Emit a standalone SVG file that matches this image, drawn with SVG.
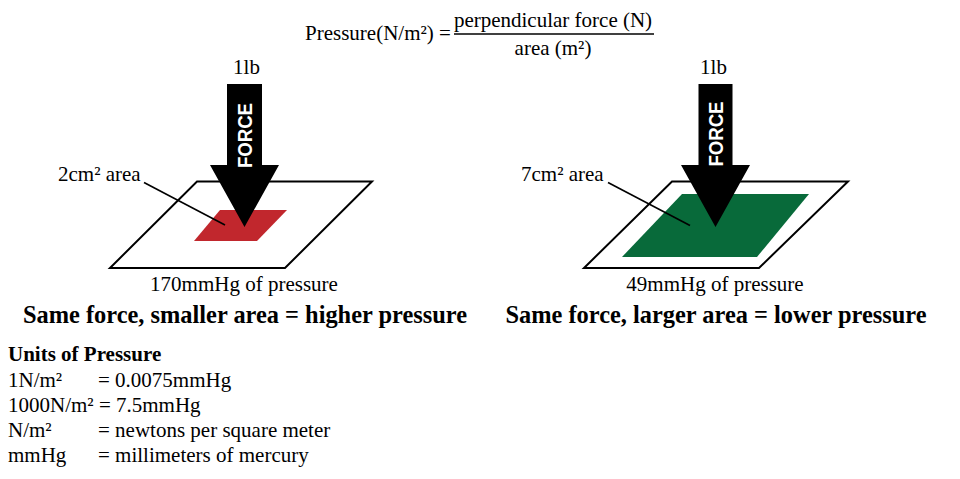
<svg xmlns="http://www.w3.org/2000/svg" width="960" height="479" viewBox="0 0 960 479">
<style>
  .t { font-family: "Liberation Serif", "Times New Roman", serif; font-size: 21px; fill: #000; }
  .b { font-family: "Liberation Serif", "Times New Roman", serif; font-size: 24.4px; font-weight: bold; fill: #000; }
  .h { font-family: "Liberation Serif", "Times New Roman", serif; font-size: 21px; font-weight: bold; fill: #000; }
  .force { font-family: "Liberation Sans", Arial, sans-serif; font-size: 20px; font-weight: bold; fill: #fff; }
  .surface { fill: #fff; stroke: #000; stroke-width: 2; stroke-linejoin: miter; }
  .arrow { fill: #000; }
  .leader { stroke: #000; stroke-width: 1.6; fill: none; }
</style>
<rect width="960" height="479" fill="#fff"/>

<g id="formula">
  <text class="t" x="305" y="40">Pressure(N/m²) =</text>
  <text class="t" x="553" y="27" text-anchor="middle">perpendicular force (N)</text>
  <line x1="454" y1="34" x2="654" y2="34" stroke="#000" stroke-width="1.5"/>
  <text class="t" x="553" y="55" text-anchor="middle">area (m²)</text>
</g>

<g id="left-surface">
  <polygon class="surface" points="197,181.5 372,181.5 285,268 110,268"/>
  <polygon fill="#c1272d" points="220,210 287,210 257,241 194,241"/>
</g>
<g id="right-surface">
  <polygon class="surface" points="672,181.5 848,181.5 759,268 584,268"/>
  <polygon fill="#086a3a" points="682,194 809,194 757,257 622,257"/>
</g>

<g id="connectors">
  <line class="leader" x1="144" y1="182.5" x2="225" y2="225"/>
  <line class="leader" x1="608" y1="182.5" x2="690" y2="225.5"/>
</g>

<g id="left-force">
  <text class="t" x="246.5" y="74" text-anchor="middle">1lb</text>
  <polygon class="arrow" points="227,84 262,84 262,165 279,165 244.5,227 210,165 227,165"/>
  <text class="force" transform="translate(244.5,135.5) rotate(-90)" text-anchor="middle" dominant-baseline="central" textLength="65" lengthAdjust="spacingAndGlyphs">FORCE</text>
</g>
<g id="right-force">
  <text class="t" x="713.5" y="74" text-anchor="middle">1lb</text>
  <polygon class="arrow" points="698.5,84 732.5,84 732.5,165 750,165 715.5,227 681,165 698.5,165"/>
  <text class="force" transform="translate(715.5,134) rotate(-90)" text-anchor="middle" dominant-baseline="central" textLength="65" lengthAdjust="spacingAndGlyphs">FORCE</text>
</g>

<g id="left-labels">
  <text class="t" x="58" y="181">2cm² area</text>
  <text class="t" x="244" y="291" text-anchor="middle">170mmHg of pressure</text>
  <text class="b" x="245" y="323" text-anchor="middle">Same force, smaller area = higher pressure</text>
</g>
<g id="right-labels">
  <text class="t" x="521" y="181">7cm² area</text>
  <text class="t" x="715" y="291" text-anchor="middle">49mmHg of pressure</text>
  <text class="b" x="716" y="323" text-anchor="middle">Same force, larger area = lower pressure</text>
</g>

<g id="units">
  <text class="h" x="8" y="361">Units of Pressure</text>
  <text class="t" x="8" y="387">1N/m²</text>
  <text class="t" x="98" y="387">= 0.0075mmHg</text>
  <text class="t" x="8" y="412">1000N/m² = 7.5mmHg</text>
  <text class="t" x="8" y="437">N/m²</text>
  <text class="t" x="98" y="437">= newtons per square meter</text>
  <text class="t" x="8" y="462">mmHg</text>
  <text class="t" x="98" y="462">= millimeters of mercury</text>
</g>
</svg>
